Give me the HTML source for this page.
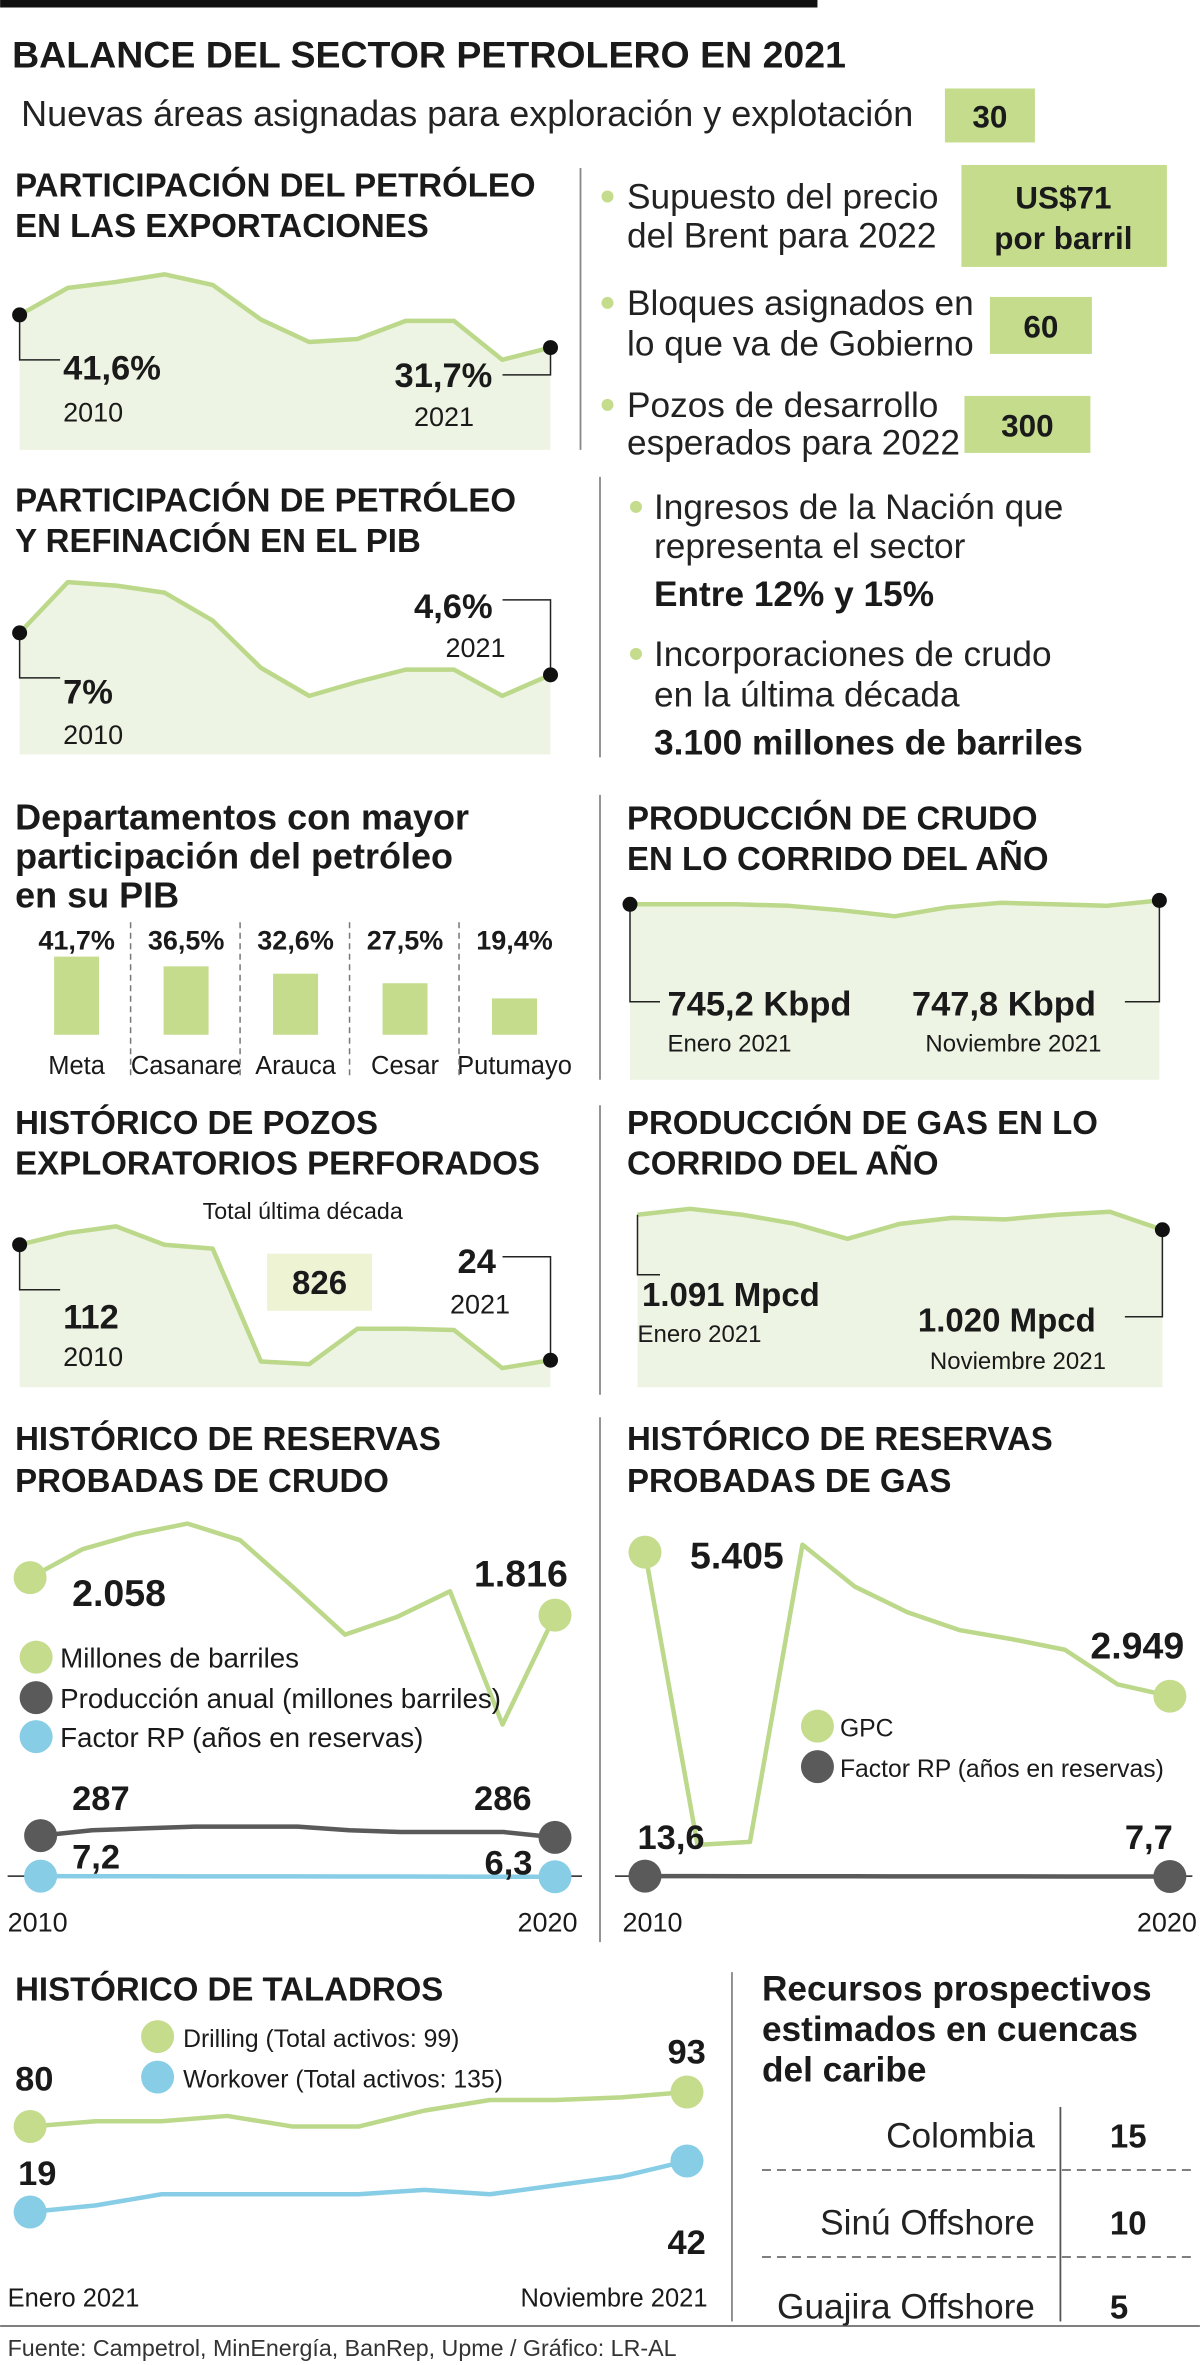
<!DOCTYPE html>
<html><head><meta charset="utf-8">
<style>
html,body{margin:0;padding:0;background:#fff;}
svg{display:block;font-family:"Liberation Sans Narrow","Liberation Sans",sans-serif;}
.t{font-weight:bold;font-size:22px;fill:#1a1a1a;}
.r{font-size:23.5px;fill:#222;}
.b{font-weight:bold;fill:#1a1a1a;}
</style></head>
<body>
<svg id="g" width="1200" height="2365" viewBox="0 0 800 1577" xmlns="http://www.w3.org/2000/svg">
<rect x="0" y="0" width="545" height="5" fill="#111"/>
<text x="8" y="45" font-size="25" class="b">BALANCE DEL SECTOR PETROLERO EN 2021</text>
<text x="14" y="84" font-size="24" fill="#222">Nuevas áreas asignadas para exploración y explotación</text>
<rect x="630" y="59" width="60" height="36" fill="#c5dc8d"/>
<text x="660" y="85" text-anchor="middle" font-size="21" class="b">30</text>

<g><text x="10" y="131" class="t">PARTICIPACIÓN DEL PETRÓLEO</text><text x="10" y="158" class="t">EN LAS EXPORTACIONES</text></g>
<line x1="387" y1="112" x2="387" y2="300" stroke="#888" stroke-width="1.2"/>

<g>
<circle cx="405" cy="131" r="4" fill="#c5dc8d"/><text x="418" y="139" class="r">Supuesto del precio</text><text x="418" y="165" class="r">del Brent para 2022</text>
<rect x="641" y="110" width="137" height="68" fill="#c5dc8d"/><text x="709" y="139" text-anchor="middle" font-size="21" class="b">US$71</text><text x="709" y="166" text-anchor="middle" font-size="21" class="b">por barril</text></g>
<g>
<circle cx="405" cy="202" r="4" fill="#c5dc8d"/><text x="418" y="210" class="r">Bloques asignados en</text><text x="418" y="237" class="r">lo que va de Gobierno</text>
<rect x="660" y="198" width="68" height="38" fill="#c5dc8d"/><text x="694" y="225" text-anchor="middle" font-size="21" class="b">60</text></g>
<g>
<circle cx="405" cy="270" r="4" fill="#c5dc8d"/><text x="418" y="278" class="r">Pozos de desarrollo</text><text x="418" y="303" class="r">esperados para 2022</text>
<rect x="643" y="264" width="84" height="38" fill="#c5dc8d"/><text x="685" y="291" text-anchor="middle" font-size="21" class="b">300</text></g>

<g><text x="10" y="341" class="t">PARTICIPACIÓN DE PETRÓLEO</text><text x="10" y="368" class="t">Y REFINACIÓN EN EL PIB</text></g>
<line x1="400" y1="318" x2="400" y2="505" stroke="#888" stroke-width="1.2"/>
<g>
<circle cx="424" cy="338" r="4" fill="#c5dc8d"/><text x="436" y="346" class="r">Ingresos de la Nación que</text><text x="436" y="372" class="r">representa el sector</text>
<text x="436" y="404" font-size="23.5" class="b">Entre 12% y 15%</text></g>
<g>
<circle cx="424" cy="436" r="4" fill="#c5dc8d"/><text x="436" y="444" class="r">Incorporaciones de crudo</text><text x="436" y="471" class="r">en la última década</text>
<text x="436" y="503" font-size="23.5" class="b">3.100 millones de barriles</text></g>

<g><text x="10" y="553" class="t" font-size="24" style="font-size:24px">Departamentos con mayor</text><text x="10" y="579" class="t" style="font-size:24px">participación del petróleo</text><text x="10" y="605" class="t" style="font-size:24px">en su PIB</text></g>
<g id="deps"></g>
<line x1="400" y1="530" x2="400" y2="720" stroke="#888" stroke-width="1.2"/>
<g><text x="418" y="553" class="t">PRODUCCIÓN DE CRUDO</text><text x="418" y="580" class="t">EN LO CORRIDO DEL AÑO</text></g>

<g><text x="10" y="756" class="t">HISTÓRICO DE POZOS</text><text x="10" y="783" class="t">EXPLORATORIOS PERFORADOS</text></g>
<line x1="400" y1="737" x2="400" y2="930" stroke="#888" stroke-width="1.2"/>
<g><text x="418" y="756" class="t">PRODUCCIÓN DE GAS EN LO</text><text x="418" y="783" class="t">CORRIDO DEL AÑO</text></g>

<g><text x="10" y="967" class="t">HISTÓRICO DE RESERVAS</text><text x="10" y="995" class="t">PROBADAS DE CRUDO</text></g>
<line x1="400" y1="945" x2="400" y2="1295" stroke="#888" stroke-width="1.2"/>
<g><text x="418" y="967" class="t">HISTÓRICO DE RESERVAS</text><text x="418" y="995" class="t">PROBADAS DE GAS</text></g>

<text x="10" y="1334" class="t">HISTÓRICO DE TALADROS</text>
<line x1="488" y1="1315" x2="488" y2="1548" stroke="#888" stroke-width="1.2"/>
<g><text x="508" y="1334" class="t" style="font-size:23.5px">Recursos prospectivos</text><text x="508" y="1361" class="t" style="font-size:23.5px">estimados en cuencas</text><text x="508" y="1388" class="t" style="font-size:23.5px">del caribe</text></g>
<g>
<line x1="707" y1="1405" x2="707" y2="1548" stroke="#555" stroke-width="1.2"/>
<line x1="508" y1="1447" x2="795" y2="1447" stroke="#555" stroke-dasharray="6,4"/>
<line x1="508" y1="1505" x2="795" y2="1505" stroke="#555" stroke-dasharray="6,4"/>
<text x="690" y="1432" text-anchor="end" class="r">Colombia</text><text x="740" y="1432" font-size="22" class="b">15</text>
<text x="690" y="1490" text-anchor="end" class="r">Sinú Offshore</text><text x="740" y="1490" font-size="22" class="b">10</text>
<text x="690" y="1546" text-anchor="end" class="r">Guajira Offshore</text><text x="740" y="1546" font-size="22" class="b">5</text>
</g>
<line x1="0" y1="1551" x2="800" y2="1551" stroke="#555" stroke-width="1"/>
<text x="5" y="1571" font-size="15.5" fill="#333">Fuente: Campetrol, MinEnergía, BanRep, Upme / Gráfico: LR-AL</text>
<g id="charts"></g>
</svg>
<script>
// ---- data ----
const exportYears = [2010,2011,2012,2013,2014,2015,2016,2017,2018,2019,2020,2021];
const exportValues = [41.6,49.8,51.6,53.9,50.7,40.2,33.4,34.3,39.8,39.8,28.0,31.7];
const pibValues = [7.0,9.9,9.7,9.3,7.7,5.0,3.4,4.2,4.9,4.9,3.4,4.6];
const depNames = ["Meta","Casanare","Arauca","Cesar","Putumayo"];
const depValues = [41.7,36.5,32.6,27.5,19.4];
const depLabels = ["41,7%","36,5%","32,6%","27,5%","19,4%"];
const crudoValues = [745.2,745.2,745.2,744.2,741.2,737.2,743.2,746.2,745.2,744.2,747.8];
const pozosValues = [112,121,126,112,109,23,21,48,48,47,18,24];
const gasValues = [1091,1119,1091,1048,977,1048,1076,1069,1091,1105,1020];
const resCrudoValues = [2058,2242,2339,2407,2300,2000,1690,1806,1970,1110,1816];
const prodValues = [287,290,291,292,292,292,290,289,289,289,286];
const rpCrudoValues = [7.2,7.0,7.0,6.9,6.8,6.8,6.7,6.6,6.5,6.4,6.3];
const resGasValues = [5405,413,464,5533,4816,4381,4074,3920,3741,3152,2949];
const rpGasValues = [13.6,12.8,12.0,11.5,11.0,10.5,10.0,9.5,9.0,8.3,7.7];
const drillingValues = [80,82,82,84,80,80,86,90,90,91,93];
const workoverValues = [19,22,27,27,27,27,29,27,31,35,42];

const NS = "http://www.w3.org/2000/svg";
const root = document.getElementById("charts");
function mk(tag, attrs, parent){const e=document.createElementNS(NS,tag);for(const k in attrs)e.setAttribute(k,attrs[k]);(parent||root).appendChild(e);return e;}
function txt(x,y,s,size,bold,parent,anchor){const e=mk("text",{x:x,y:y,"font-size":size,fill:"#1a1a1a","font-weight":bold?"bold":"normal","text-anchor":anchor||"start"},parent);e.textContent=s;return e;}
function scaleX(i,n,x0,x1){return x0+(x1-x0)*i/(n-1);}
function scaleY(v,ref,y0,ppu){return y0-(v-ref)*ppu;}
function pts(vals,x0,x1,ref,y0,ppu){return vals.map((v,i)=>[scaleX(i,vals.length,x0,x1),scaleY(v,ref,y0,ppu)]);}
function area(p,bottom,g){mk("path",{d:"M"+p[0][0]+","+bottom+" L"+p.map(q=>q.join(",")).join(" L")+" L"+p[p.length-1][0]+","+bottom+" Z",fill:"#eef4e3"},g);}
function line(p,color,w,g){mk("polyline",{points:p.map(q=>q.join(",")).join(" "),fill:"none",stroke:color,"stroke-width":w,"stroke-linejoin":"round"},g);}
function leader(d,g){mk("path",{d:d,fill:"none",stroke:"#222","stroke-width":1},g);}

// exports chart
let g1 = mk("g",{});


let p1 = pts(exportValues,13,367,41.6,210,2.2);
area(p1,300,g1); line(p1,"#bcd88a",3,g1);
leader("M13,"+p1[0][1]+" V240 H40",g1); leader("M335,250 H367 V"+p1[11][1],g1);
mk("circle",{cx:p1[0][0],cy:p1[0][1],r:5,fill:"#111"},g1); mk("circle",{cx:p1[11][0],cy:p1[11][1],r:5,fill:"#111"},g1);
txt(42,253,"41,6%",23,true,g1); txt(42,281,"2010",18,false,g1);
txt(263,258,"31,7%",23,true,g1); txt(276,284,"2021",18,false,g1);

// pib chart
let g2 = mk("g",{});


let p2 = pts(pibValues,13,367,7,422,11.67);
area(p2,503,g2); line(p2,"#bcd88a",3,g2);
leader("M13,"+p2[0][1]+" V452 H40",g2); leader("M335,400 H367 V"+p2[11][1],g2);
mk("circle",{cx:p2[0][0],cy:p2[0][1],r:5,fill:"#111"},g2); mk("circle",{cx:p2[11][0],cy:p2[11][1],r:5,fill:"#111"},g2);
txt(42,469,"7%",23,true,g2); txt(42,496,"2010",18,false,g2);
txt(276,412,"4,6%",23,true,g2); txt(297,438,"2021",18,false,g2);

// departamentos bars
const dg = document.getElementById("deps");
depValues.forEach((v,i)=>{
  const cx = 51+i*73;
  const h = v*1.25;
  const bar = mk("rect",{x:cx-15,y:690-h,width:30,height:h,fill:"#c5dc8d"},dg);
  
  
  txt(cx,633,depLabels[i],18,true,dg,"middle");
  txt(cx,716,depNames[i],17,false,dg,"middle");
  if(i>0) mk("line",{x1:cx-37,y1:615,x2:cx-37,y2:718,stroke:"#777","stroke-dasharray":"4,3"},dg);
});

// crudo production
let g3 = mk("g",{});


let p3 = pts(crudoValues,420,773,745.2,603,1);
area(p3,720,g3); line(p3,"#bcd88a",3,g3);
leader("M420,603 V668 H440",g3); leader("M750,668 H773 V603",g3);
mk("circle",{cx:p3[0][0],cy:p3[0][1],r:5,fill:"#111"},g3); mk("circle",{cx:p3[10][0],cy:p3[10][1],r:5,fill:"#111"},g3);
txt(445,677,"745,2 Kbpd",23,true,g3); txt(445,701,"Enero 2021",16,false,g3);
txt(608,677,"747,8 Kbpd",23,true,g3); txt(617,701,"Noviembre 2021",16,false,g3);

// pozos
let g4 = mk("g",{});


let p4 = pts(pozosValues,13,367,112,830,0.875);
area(p4,925,g4); line(p4,"#bcd88a",3,g4);
leader("M13,830 V860 H40",g4); leader("M335,838 H367 V"+p4[11][1],g4);
mk("circle",{cx:p4[0][0],cy:p4[0][1],r:5,fill:"#111"},g4); mk("circle",{cx:p4[11][0],cy:p4[11][1],r:5,fill:"#111"},g4);
txt(42,886,"112",23,true,g4); txt(42,911,"2010",18,false,g4);
txt(305,849,"24",23,true,g4); txt(300,876,"2021",18,false,g4);
txt(135,813,"Total última década",15.5,false,g4);
mk("rect",{x:178,y:836,width:70,height:38,fill:"#eef3d4"},g4);
txt(213,863,"826",22,true,g4,"middle");

// gas production
let g5 = mk("g",{});


let p5 = pts(gasValues,425,775,1091,810,0.141);
area(p5,925,g5); line(p5,"#bcd88a",3,g5);
leader("M425,810 V850 H440",g5); leader("M750,878 H775 V"+p5[10][1],g5);
mk("circle",{cx:p5[10][0],cy:p5[10][1],r:5,fill:"#111"},g5);
txt(428,871,"1.091 Mpcd",22,true,g5); txt(425,895,"Enero 2021",16,false,g5);
txt(612,888,"1.020 Mpcd",22,true,g5); txt(620,913,"Noviembre 2021",16,false,g5);

// reservas crudo
let g6 = mk("g",{});


mk("line",{x1:5,y1:1251,x2:388,y2:1251,stroke:"#222","stroke-width":1},g6);
let p6 = pts(resCrudoValues,20,370,2058,1052,0.1033);
line(p6,"#bcd88a",3,g6);
mk("circle",{cx:p6[0][0],cy:p6[0][1],r:11,fill:"#c5dc8d"},g6); mk("circle",{cx:p6[10][0],cy:p6[10][1],r:11,fill:"#c5dc8d"},g6);
let p6b = pts(prodValues,27,370,287,1224,1.2);
line(p6b,"#5a5a5a",3,g6);
mk("circle",{cx:p6b[0][0],cy:p6b[0][1],r:11,fill:"#5a5a5a"},g6); mk("circle",{cx:p6b[10][0],cy:p6b[10][1],r:11,fill:"#5a5a5a"},g6);
let p6c = pts(rpCrudoValues,27,370,7.2,1251,0.5);
line(p6c,"#87cde6",3,g6);
mk("circle",{cx:p6c[0][0],cy:p6c[0][1],r:11,fill:"#87cde6"},g6); mk("circle",{cx:p6c[10][0],cy:p6c[10][1],r:11,fill:"#87cde6"},g6);
txt(48,1071,"2.058",25,true,g6); txt(316,1058,"1.816",25,true,g6);
txt(48,1207,"287",23,true,g6); txt(316,1207,"286",23,true,g6);
txt(48,1246,"7,2",23,true,g6); txt(323,1250,"6,3",23,true,g6);
txt(5,1288,"2010",18,false,g6); txt(345,1288,"2020",18,false,g6);
mk("circle",{cx:24,cy:1105,r:11,fill:"#c5dc8d"},g6); txt(40,1112,"Millones de barriles",18.5,false,g6);
mk("circle",{cx:24,cy:1132,r:11,fill:"#5a5a5a"},g6); txt(40,1139,"Producción anual (millones barriles)",18.5,false,g6);
mk("circle",{cx:24,cy:1158,r:11,fill:"#87cde6"},g6); txt(40,1165,"Factor RP (años en reservas)",18.5,false,g6);

// reservas gas
let g7 = mk("g",{});


mk("line",{x1:410,y1:1251,x2:795,y2:1251,stroke:"#222","stroke-width":1},g7);
let p7 = pts(resGasValues,430,780,5405,1035,0.0391);
line(p7,"#bcd88a",3,g7);
mk("circle",{cx:p7[0][0],cy:p7[0][1],r:11,fill:"#c5dc8d"},g7); mk("circle",{cx:p7[10][0],cy:p7[10][1],r:11,fill:"#c5dc8d"},g7);
let p7b = pts(rpGasValues,430,780,13.6,1251,0.05);
line(p7b,"#5a5a5a",3,g7);
mk("circle",{cx:p7b[0][0],cy:p7b[0][1],r:11,fill:"#5a5a5a"},g7); mk("circle",{cx:p7b[10][0],cy:p7b[10][1],r:11,fill:"#5a5a5a"},g7);
txt(460,1046,"5.405",25,true,g7); txt(727,1106,"2.949",25,true,g7);
txt(425,1233,"13,6",23,true,g7); txt(750,1233,"7,7",23,true,g7);
txt(415,1288,"2010",18,false,g7); txt(758,1288,"2020",18,false,g7);
mk("circle",{cx:545,cy:1151,r:11,fill:"#c5dc8d"},g7); txt(560,1158,"GPC",16.5,false,g7);
mk("circle",{cx:545,cy:1178,r:11,fill:"#5a5a5a"},g7); txt(560,1185,"Factor RP (años en reservas)",16.5,false,g7);

// taladros
let g8 = mk("g",{});


let p8 = pts(drillingValues,20,458,80,1418,1.77);
line(p8,"#bcd88a",3,g8);
mk("circle",{cx:p8[0][0],cy:p8[0][1],r:11,fill:"#c5dc8d"},g8); mk("circle",{cx:p8[10][0],cy:p8[10][1],r:11,fill:"#c5dc8d"},g8);
let p9 = pts(workoverValues,20,458,19,1475,1.48);
line(p9,"#87cde6",3,g8);
mk("circle",{cx:p9[0][0],cy:p9[0][1],r:11,fill:"#87cde6"},g8); mk("circle",{cx:p9[10][0],cy:p9[10][1],r:11,fill:"#87cde6"},g8);
txt(10,1394,"80",23,true,g8); txt(445,1376,"93",23,true,g8);
txt(12,1457,"19",23,true,g8); txt(445,1503,"42",23,true,g8);
txt(5,1538,"Enero 2021",17,false,g8); txt(347,1538,"Noviembre 2021",17,false,g8);
mk("circle",{cx:105,cy:1358,r:11,fill:"#c5dc8d"},g8); txt(122,1365,"Drilling (Total activos: 99)",16.5,false,g8);
mk("circle",{cx:105,cy:1385,r:11,fill:"#87cde6"},g8); txt(122,1392,"Workover (Total activos: 135)",16.5,false,g8);
</script>
</body></html>
